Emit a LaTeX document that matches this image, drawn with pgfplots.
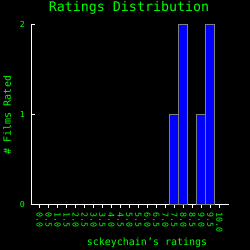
\documentclass[border=0pt]{standalone}
\usepackage{pgfplots}
\pgfplotsset{compat=1.18}
\usepackage{fontspec}
\setmainfont{DejaVu Sans Mono}
\definecolor{tgreen}{RGB}{0,255,0}
\definecolor{barblue}{RGB}{0,0,255}
\definecolor{bargray}{RGB}{128,128,128}
\begin{document}
\begin{tikzpicture}[x=1pt,y=1pt]
\fill[black] (0,0) rectangle (250,250);
\useasboundingbox (0,0) rectangle (250,250);
\begin{axis}[
  at={(31pt,46pt)}, anchor=south west,
  scale only axis, width=198pt, height=180pt,
  xmin=-0.48, xmax=10.54, ymin=0, ymax=2,
  axis x line=bottom, axis y line=left,
  axis line style={white, -, line width=0.8pt},
  tick style={white, line width=0.8pt},
  tick align=inside, major tick length=4pt,
  xtick={0,0.5,...,10},
  xticklabels={0.0,0.5,1.0,1.5,2.0,2.5,3.0,3.5,4.0,4.5,5.0,5.5,6.0,6.5,7.0,7.5,8.0,8.5,9.0,9.5,10.0},
  xticklabel style={rotate=-90, anchor=west, font=\fontsize{8.3}{9}\selectfont, text=tgreen, inner sep=0pt},
  ytick={0,1,2},
  yticklabel style={font=\fontsize{8.3}{9}\selectfont, text=tgreen, inner sep=0pt},
  /pgf/number format/assume math mode=true,
  xticklabel shift=4pt, yticklabel shift=6pt,
  title={Ratings Distribution},
  title style={at={(axis description cs:0.495,1.089)}, anchor=center, yshift=-6pt, font=\fontsize{13.3}{15}\selectfont, text=tgreen},
  xlabel={sckeychain's ratings},
  xlabel style={at={(axis description cs:0.586,-0.217)}, anchor=center, font=\fontsize{10}{12}\selectfont, text=tgreen},
  ylabel={\# Films Rated},
  ylabel style={at={(axis description cs:-0.121,0.494)}, anchor=center, font=\fontsize{10}{12}\selectfont, text=tgreen},
  ybar, bar width=9pt,
  clip=false,
]
\addplot[fill=barblue, draw=bargray, line width=0.8pt] coordinates {
  (7.5,1) (8.0,2) (9.0,1) (9.5,2)
};
\end{axis}
\end{tikzpicture}
\end{document}
